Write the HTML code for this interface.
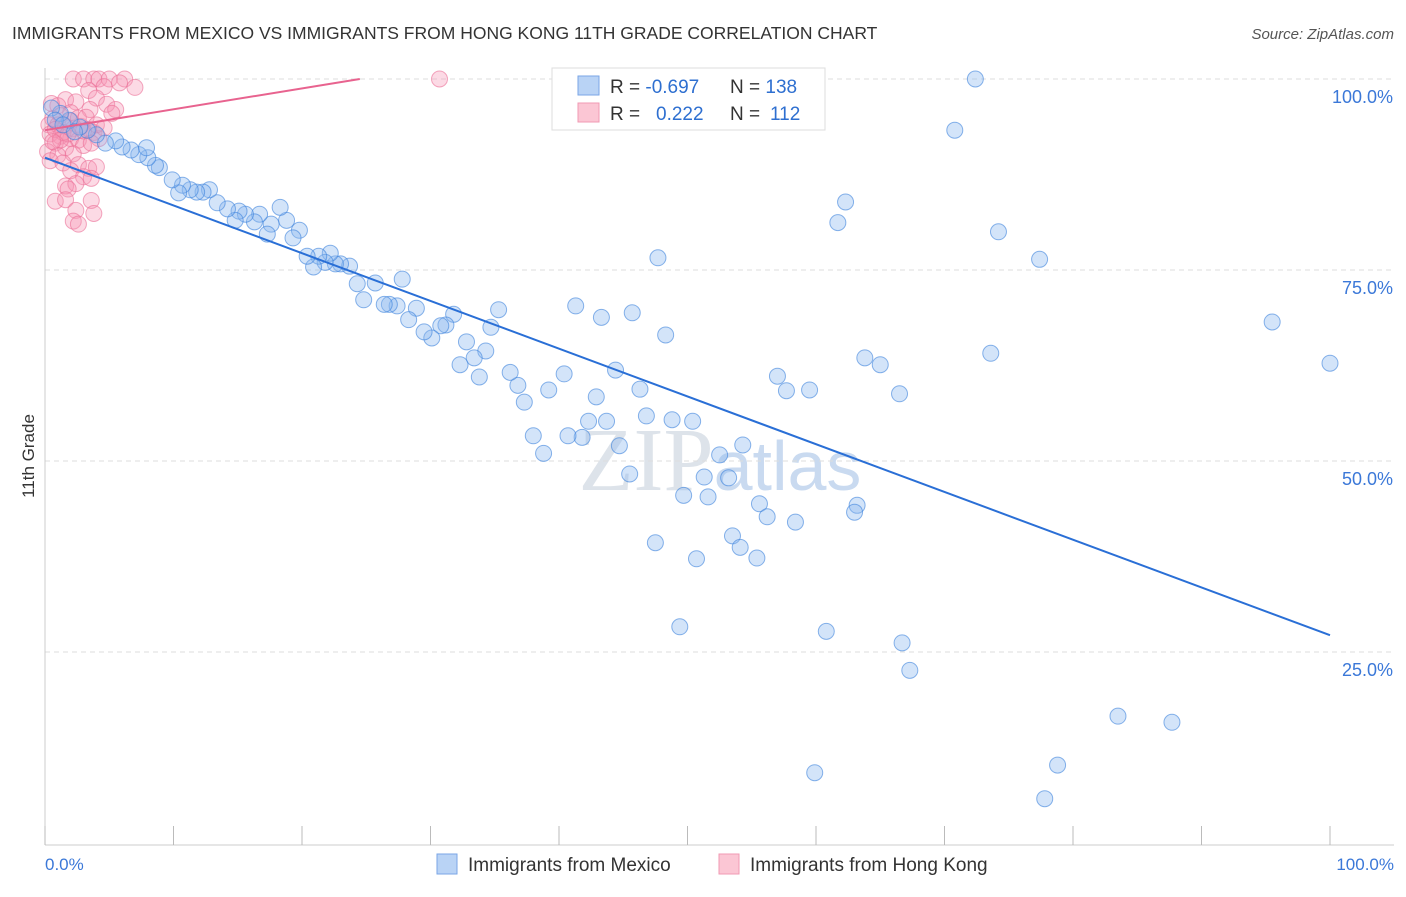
<!DOCTYPE html>
<html><head><meta charset="utf-8"><style>
body{margin:0;background:#fff;font-family:"Liberation Sans",sans-serif}
</style></head><body>
<svg width="1406" height="892" viewBox="0 0 1406 892" xmlns="http://www.w3.org/2000/svg">
<text x="12" y="39" font-size="17.5" fill="#333">IMMIGRANTS FROM MEXICO VS IMMIGRANTS FROM HONG KONG 11TH GRADE CORRELATION CHART</text>
<text x="1394" y="39" font-size="15" fill="#555" font-style="italic" text-anchor="end">Source: ZipAtlas.com</text>
<text x="720" y="490" font-size="90" fill="#dde3ea" text-anchor="middle" font-family="Liberation Serif,serif">ZIP<tspan fill="#c9daf0" font-family="Liberation Sans,sans-serif" font-size="70">atlas</tspan></text>
<g id="grid"></g><g id="axes"></g><g id="pts"></g><g id="lines"></g>
<text transform="translate(34,456) rotate(-90)" font-size="17" fill="#333" text-anchor="middle">11th Grade</text>
<text x="45" y="870" font-size="17" fill="#3b78d8">0.0%</text>
<text x="1394" y="870" font-size="17" fill="#3b78d8" text-anchor="end">100.0%</text>
<g>
<rect x="552" y="68" width="273" height="62" fill="#fff" stroke="#ddd"/>
<rect x="578" y="76" width="21" height="19" fill="#b9d3f5" stroke="#7aa6e6"/>
<rect x="578" y="103" width="21" height="19" fill="#fbc6d4" stroke="#f09ab3"/>
<text x="610" y="93" font-size="19" fill="#333">R = <tspan fill="#2e6fd0">-0.697</tspan></text>
<text x="730" y="93" font-size="19" fill="#333">N = <tspan fill="#2e6fd0">138</tspan></text>
<text x="610" y="120" font-size="19" fill="#333">R = <tspan fill="#2e6fd0" x="656">0.222</tspan></text>
<text x="730" y="120" font-size="19" fill="#333">N = <tspan fill="#2e6fd0" x="770">112</tspan></text>
</g>
<g>
<rect x="437" y="854" width="20" height="20" fill="#b9d3f5" stroke="#7aa6e6"/>
<text x="468" y="871" font-size="19" fill="#333">Immigrants from Mexico</text>
<rect x="719" y="854" width="20" height="20" fill="#fbc6d4" stroke="#f09ab3"/>
<text x="750" y="871" font-size="19" fill="#333">Immigrants from Hong Kong</text>
</g>
</svg>
<script>
const yTicks=[25,50,75,100];
const yTickLabels=["25.0%","50.0%","75.0%","100.0%"];
const xTicks=[0,10,20,30,40,50,60,70,80,90,100];
const mexicoX=[72.4,70.8,62.3,61.7,74.2,77.4,47.7,95.5,100,73.6,41.3,43.3,45.7,48.3,57.0,57.7,59.5,63.8,65.0,66.5,44.4,46.3,42.9,46.8,48.8,50.4,43.7,44.7,42.3,41.8,40.7,39.2,40.4,37.3,36.8,36.2,35.3,34.7,34.3,33.8,33.4,32.8,32.3,31.8,31.2,30.8,30.1,29.5,28.9,28.3,27.8,27.4,26.8,26.4,25.7,24.8,24.3,23.7,23.0,22.6,22.2,21.8,21.3,20.9,20.4,19.8,19.3,18.8,18.3,17.6,17.3,16.7,16.3,15.6,15.1,14.8,14.2,13.4,12.8,12.3,11.8,11.3,10.7,10.4,9.9,8.9,8.6,8.0,7.3,6.7,7.9,6.0,5.5,4.7,4.0,3.3,2.7,1.9,1.2,0.5,0.8,1.4,2.3,52.5,51.3,53.2,49.7,51.6,54.3,55.6,56.2,58.4,63.2,63.0,53.5,54.1,55.4,50.7,47.5,45.5,38.8,38.0,49.4,60.8,66.7,67.3,83.5,87.7,59.9,78.8,77.8];
const mexicoY=[100,93.3,83.9,81.2,80.0,76.4,76.6,68.2,62.8,64.1,70.3,68.8,69.4,66.5,61.1,59.2,59.3,63.5,62.6,58.8,61.9,59.4,58.4,55.9,55.4,55.2,55.2,52.0,55.2,53.1,53.3,59.3,61.4,57.7,59.9,61.6,69.8,67.5,64.4,61.0,63.5,65.6,62.6,69.2,67.8,67.7,66.1,66.9,70.0,68.5,73.8,70.3,70.5,70.5,73.3,71.1,73.2,75.5,75.8,75.8,77.2,76.0,76.8,75.4,76.8,80.2,79.2,81.5,83.2,81.0,79.7,82.3,81.3,82.3,82.7,81.5,83.0,83.8,85.5,85.2,85.2,85.5,86.1,85.1,86.8,88.4,88.7,89.7,90.1,90.7,91.0,91.1,91.9,91.6,92.7,93.3,93.7,94.6,95.5,96.2,94.6,94.0,93.1,50.8,47.9,47.8,45.5,45.3,52.1,44.4,42.7,42.0,44.2,43.3,40.2,38.7,37.3,37.2,39.3,48.3,51.0,53.3,28.3,27.7,26.2,22.6,16.6,15.8,9.2,10.2,5.8];
const hkX=[2.2,3.0,3.8,4.2,6.2,5.0,30.7,4.6,5.8,7.0,3.4,4.0,1.6,2.4,0.5,1.0,4.8,5.5,5.2,3.5,2.0,1.2,0.6,0.3,1.0,1.6,2.2,2.8,3.4,3.8,0.4,1.2,2.0,2.6,0.8,1.6,3.0,4.2,0.2,1.0,2.2,0.4,1.4,2.6,3.4,4.0,2.0,3.0,3.6,1.6,2.4,1.8,0.8,1.6,3.6,2.4,3.8,2.2,2.6,3.0,2.0,1.4,0.8,1.8,2.6,3.2,4.0,4.6,1.2,0.6,3.6];
const hkY=[100,100,100,100,100,100,100,99,99.5,98.9,98.5,97.5,97.3,97,96.8,96.5,96.7,96,95.5,96,95.6,95.2,94.8,94,94,93.8,93.5,93.8,93.4,93,92.8,92.5,92.2,92,91.6,91,91.3,92.2,90.5,90,90.2,89.3,89,88.8,88.3,88.5,88,87.2,87,86,86.3,85.6,84,84.2,84.1,82.8,82.4,81.4,81,93.2,94.5,93,93.4,92.8,94.9,95.0,94.0,93.6,92.0,91.8,91.6];
const mexicoTrend=[89.7,27.2]; // y at x=0, x=100
const hkTrend=[93.3,100,24.5];  // y at x=0, y end, x end
const NS="http://www.w3.org/2000/svg";
const X=v=>45+v*12.85, Y=v=>843-v*7.64;
function mk(tag,attrs,parent){const e=document.createElementNS(NS,tag);for(const k in attrs)e.setAttribute(k,attrs[k]);document.getElementById(parent).appendChild(e);return e;}
yTicks.forEach((t,i)=>{
 const g=mk('line',{x1:45,x2:1394,y1:Y(t),y2:Y(t),stroke:'#ddd','stroke-dasharray':'5,4'},'grid');
 
 
 const l=mk('text',{x:1393,y:Y(t)+24,'font-size':18,fill:'#3b78d8','text-anchor':'end'},'grid');
 l.textContent=yTickLabels[i];
 
 
});
const ax=mk('line',{x1:45,x2:1394,y1:845,y2:845,stroke:'#ccc'},'axes');


const ay=mk('line',{x1:45,x2:45,y1:68,y2:845,stroke:'#ccc'},'axes');


xTicks.forEach(t=>{
 const k=mk('line',{x1:X(t),x2:X(t),y1:826,y2:845,stroke:'#bbb'},'axes');
 
 
});
hkX.forEach((x,i)=>{
 const c=mk('circle',{cx:X(x),cy:Y(hkY[i]),r:8,fill:'rgba(245,150,180,0.35)',stroke:'rgba(235,110,150,0.6)'},'pts');
 
 
});
mexicoX.forEach((x,i)=>{
 const c=mk('circle',{cx:X(x),cy:Y(mexicoY[i]),r:8,fill:'rgba(140,185,240,0.38)',stroke:'rgba(60,130,220,0.6)'},'pts');
 
 
});
const bl=mk('line',{x1:X(0),y1:Y(mexicoTrend[0]),x2:X(100),y2:Y(mexicoTrend[1]),stroke:'#2a6fd6','stroke-width':2},'lines');


const pl=mk('line',{x1:X(0),y1:Y(hkTrend[0]),x2:X(hkTrend[2]),y2:Y(hkTrend[1]),stroke:'#e8638f','stroke-width':2},'lines');


</script>
</body></html>
